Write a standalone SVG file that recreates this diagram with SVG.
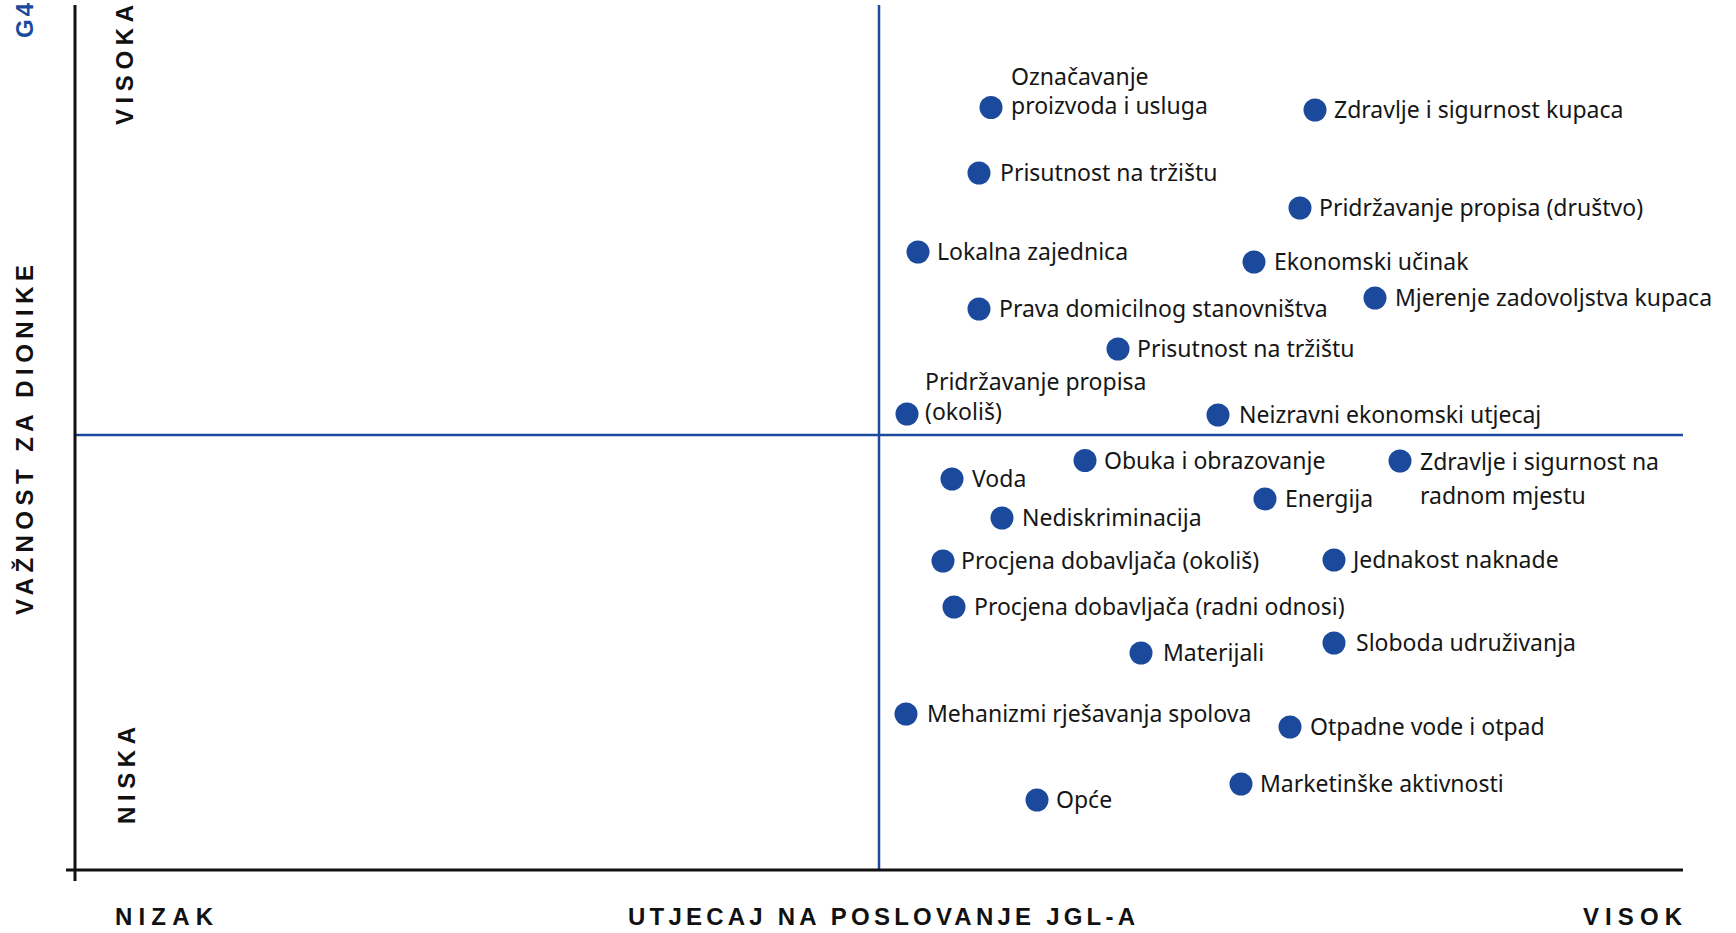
<svg xmlns="http://www.w3.org/2000/svg" width="1736" height="933" viewBox="0 0 1736 933">
<style>
.dot{fill:#1b4a9c}
.lbl{font-family:"Noto Sans","Open Sans","Liberation Sans",sans-serif;font-size:23px;fill:#161616}
.ax{font-family:"Liberation Sans","Noto Sans",sans-serif;font-size:24px;font-weight:bold;fill:#111}
.axis{stroke:#111;stroke-width:3;fill:none}
.quad{stroke:#1b4a9c;stroke-width:2.5;fill:none}
</style>
<rect width="1736" height="933" fill="#fff"/>
<g id="axes">
<line class="quad" x1="879" y1="5" x2="879" y2="870"/>
<line class="quad" x1="75" y1="435" x2="1683" y2="435"/>
<line class="axis" x1="75" y1="5" x2="75" y2="881"/>
<line class="axis" x1="66" y1="870" x2="1683" y2="870"/>
</g>
<g id="axis-labels">
<text class="ax" style="fill:#1b4a9c" transform="translate(33,38) rotate(-90)" textLength="35" lengthAdjust="spacing">G4</text>
<text class="ax" transform="translate(133,125) rotate(-90)" textLength="120" lengthAdjust="spacing">VISOKA</text>
<text class="ax" transform="translate(33,615) rotate(-90)" textLength="350" lengthAdjust="spacing">VAŽNOST ZA DIONIKE</text>
<text class="ax" transform="translate(135,824) rotate(-90)" textLength="97" lengthAdjust="spacing">NISKA</text>
<text class="ax" x="115" y="925" textLength="98" lengthAdjust="spacing">NIZAK</text>
<text class="ax" x="628" y="925" textLength="507" lengthAdjust="spacing">UTJECAJ NA POSLOVANJE JGL-A</text>
<text class="ax" x="1583" y="925" textLength="99" lengthAdjust="spacing">VISOK</text>
</g>
<g id="n1"><circle class="dot" cx="991" cy="107.5" r="11.5"/><text class="lbl" x="1011" y="85">Označavanje</text><text class="lbl" x="1011" y="114">proizvoda i usluga</text></g>
<g id="n2"><circle class="dot" cx="1315" cy="110" r="11.5"/><text class="lbl" x="1334" y="118">Zdravlje i sigurnost kupaca</text></g>
<g id="n3"><circle class="dot" cx="979" cy="173" r="11.5"/><text class="lbl" x="1000" y="181">Prisutnost na tržištu</text></g>
<g id="n4"><circle class="dot" cx="1300" cy="208" r="11.5"/><text class="lbl" x="1319" y="216">Pridržavanje propisa (društvo)</text></g>
<g id="n5"><circle class="dot" cx="918" cy="252" r="11.5"/><text class="lbl" x="937" y="260">Lokalna zajednica</text></g>
<g id="n6"><circle class="dot" cx="1254" cy="262" r="11.5"/><text class="lbl" x="1274" y="270">Ekonomski učinak</text></g>
<g id="n7"><circle class="dot" cx="979" cy="309" r="11.5"/><text class="lbl" x="999" y="317">Prava domicilnog stanovništva</text></g>
<g id="n8"><circle class="dot" cx="1375" cy="298" r="11.5"/><text class="lbl" x="1395" y="306">Mjerenje zadovoljstva kupaca</text></g>
<g id="n9"><circle class="dot" cx="1118" cy="349" r="11.5"/><text class="lbl" x="1137" y="357">Prisutnost na tržištu</text></g>
<g id="n10"><circle class="dot" cx="907" cy="414" r="11.5"/><text class="lbl" x="925" y="390">Pridržavanje propisa</text><text class="lbl" x="925" y="420">(okoliš)</text></g>
<g id="n11"><circle class="dot" cx="1218" cy="415" r="11.5"/><text class="lbl" x="1239" y="423">Neizravni ekonomski utjecaj</text></g>
<g id="n12"><circle class="dot" cx="1085" cy="460.5" r="11.5"/><text class="lbl" x="1104" y="469">Obuka i obrazovanje</text></g>
<g id="n13"><circle class="dot" cx="1400" cy="461" r="11.5"/><text class="lbl" x="1420" y="470">Zdravlje i sigurnost na</text><text class="lbl" x="1420" y="504">radnom mjestu</text></g>
<g id="n14"><circle class="dot" cx="952" cy="479" r="11.5"/><text class="lbl" x="972" y="487">Voda</text></g>
<g id="n15"><circle class="dot" cx="1265" cy="499" r="11.5"/><text class="lbl" x="1285" y="507">Energija</text></g>
<g id="n16"><circle class="dot" cx="1002" cy="518" r="11.5"/><text class="lbl" x="1022" y="526">Nediskriminacija</text></g>
<g id="n17"><circle class="dot" cx="943" cy="561" r="11.5"/><text class="lbl" x="961" y="569">Procjena dobavljača (okoliš)</text></g>
<g id="n18"><circle class="dot" cx="1334" cy="560" r="11.5"/><text class="lbl" x="1353" y="568">Jednakost naknade</text></g>
<g id="n19"><circle class="dot" cx="954" cy="607" r="11.5"/><text class="lbl" x="974" y="615">Procjena dobavljača (radni odnosi)</text></g>
<g id="n20"><circle class="dot" cx="1141" cy="653" r="11.5"/><text class="lbl" x="1163" y="661">Materijali</text></g>
<g id="n21"><circle class="dot" cx="1334" cy="643" r="11.5"/><text class="lbl" x="1356" y="651">Sloboda udruživanja</text></g>
<g id="n22"><circle class="dot" cx="906" cy="714" r="11.5"/><text class="lbl" x="927" y="722">Mehanizmi rješavanja spolova</text></g>
<g id="n23"><circle class="dot" cx="1290" cy="727" r="11.5"/><text class="lbl" x="1310" y="735">Otpadne vode i otpad</text></g>
<g id="n24"><circle class="dot" cx="1241" cy="784" r="11.5"/><text class="lbl" x="1260" y="792">Marketinške aktivnosti</text></g>
<g id="n25"><circle class="dot" cx="1037" cy="800" r="11.5"/><text class="lbl" x="1056" y="808">Opće</text></g>
<g id="connectors"></g>
</svg>
